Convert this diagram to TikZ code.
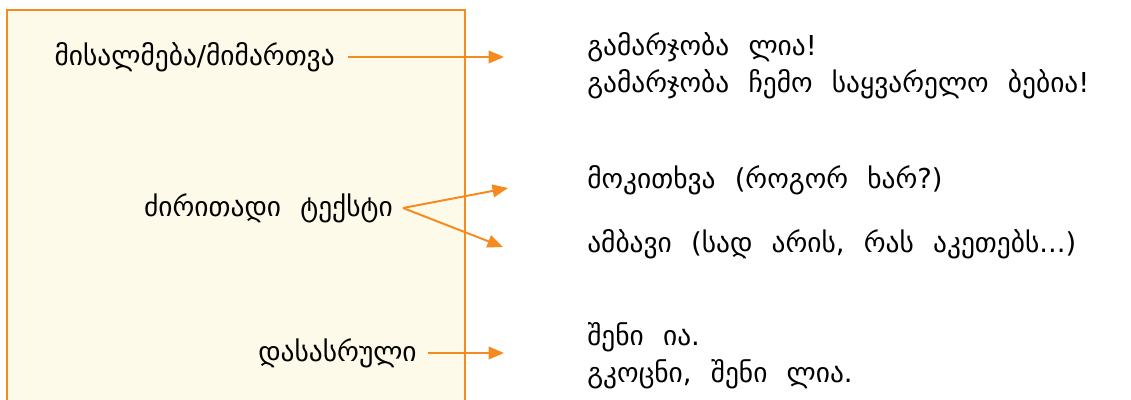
\documentclass[tikz,border=0pt]{standalone}
\usepackage{fontspec}
\setmainfont{DejaVu Sans}
\usetikzlibrary{arrows.meta}
\definecolor{orng}{HTML}{F58A1F}
\definecolor{cream}{HTML}{FEFAE9}
\newcommand{\geofont}{\fontsize{19.5}{26.5}\selectfont\spaceskip=0.7em}
\tikzset{
  part/.style={anchor=east, inner sep=0pt, font=\geofont},
  txt/.style={anchor=west, align=left, inner sep=0pt, font=\geofont},
  arr/.style={orng, line width=1.4pt, -{Triangle[length=11pt,width=9pt]}}
}
\begin{document}
\begin{tikzpicture}[x=0.025cm,y=-0.025cm]
\useasboundingbox (0,0) rectangle (1131,400);
\draw [orng, line width=1.4pt, fill=cream](7,10) rectangle (465,420);

\node[part] (greet) at (335,57) {მისალმება/მიმართვა};
\node[part] (body) at (393,208) {ძირითადი ტექსტი};
\node[part] (close) at (417,353) {დასასრული};

\node[txt] (hello) at (587,66) {გამარჯობა ლია!\\გამარჯობა ჩემო საყვარელო ბებია!};
\node[txt] (ask) at (587,180) {მოკითხვა (როგორ ხარ?)};
\node[txt] (news) at (587,244) {ამბავი (სად არის, რას აკეთებს...)};
\node[txt] (bye) at (587,356) {შენი ია.\\გკოცნი, შენი ლია.};

\coordinate (greettip) at (504,57);
\coordinate (asktip) at (508,188);
\coordinate (newstip) at (503,247);
\coordinate (closetip) at (504,353);

\draw[arr] ([xshift=13*0.025cm]greet.east) -- (greettip);
\draw[arr] ([xshift=10*0.025cm]body.east) -- (asktip);
\draw[arr] ([xshift=10*0.025cm]body.east) -- (newstip);
\draw[arr] ([xshift=11*0.025cm]close.east) -- (closetip);
\end{tikzpicture}
\end{document}
